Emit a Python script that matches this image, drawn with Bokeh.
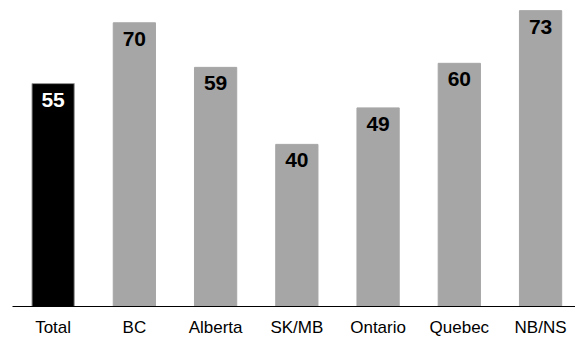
from bokeh.plotting import figure
from bokeh.models import ColumnDataSource, Range1d, FixedTicker
from bokeh.core.properties import value
from bokeh.embed import file_html
from bokeh.resources import INLINE

# Share (%) by region
regions = ["Total", "BC", "Alberta", "SK/MB", "Ontario", "Quebec", "NB/NS"]
shares = [55, 70, 59, 40, 49, 60, 73]
bar_colors = ["#000000", "#a6a6a6", "#a6a6a6", "#a6a6a6", "#a6a6a6", "#a6a6a6", "#a6a6a6"]
edge_colors = ["#9a9a9a", "#a6a6a6", "#a6a6a6", "#a6a6a6", "#a6a6a6", "#a6a6a6", "#a6a6a6"]
label_colors = ["#ffffff", "#000000", "#000000", "#000000", "#000000", "#000000", "#000000"]

FONT = "Liberation Sans"

xs = list(range(len(regions)))
src = ColumnDataSource(dict(x=xs, top=shares, fill=bar_colors, edge=edge_colors,
                            lab=[str(v) for v in shares], lcol=label_colors))

p = figure(width=575, height=339, output_backend="svg", toolbar_location=None,
           x_range=Range1d(-0.5, 6.43), y_range=Range1d(0, 75.5),
           min_border_left=12, min_border_right=0, min_border_top=0,
           min_border_bottom=33)

p.vbar(x="x", top="top", bottom=0, width=0.52, fill_color="fill",
       line_color="edge", line_width=1, source=src)

p.text(x="x", y="top", text="lab", text_color="lcol", source=src,
       text_align="center", text_baseline="top", y_offset=9,
       text_font=value(FONT), text_font_style="bold", text_font_size="21px")

p.yaxis.visible = False
p.xgrid.visible = False
p.ygrid.visible = False
p.outline_line_color = None

ax = p.xaxis[0]
ax.ticker = FixedTicker(ticks=xs)
ax.major_label_overrides = {i: r for i, r in enumerate(regions)}
ax.major_tick_line_color = None
ax.minor_tick_line_color = None
ax.major_tick_out = 0
ax.major_tick_in = 0
ax.major_label_standoff = 11
ax.axis_line_color = "#000000"
ax.axis_line_width = 1
ax.major_label_text_font = FONT
ax.major_label_text_font_size = "17px"
ax.major_label_text_color = "#000000"

open("out.html", "w").write(file_html(p, INLINE))
